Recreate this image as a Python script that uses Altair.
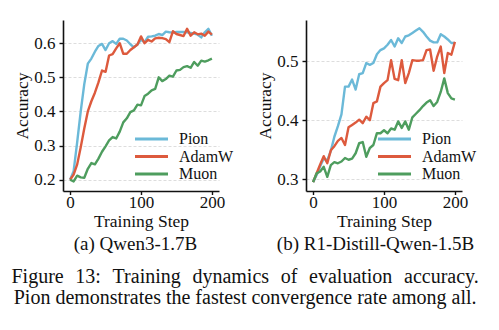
import altair as alt
import pandas as pd

steps = list(range(0, 201, 5))
optimizers = ["Pion", "AdamW", "Muon"]
colors = ["#6BB9D8", "#DD5A3D", "#4E9D5E"]

# (a) Qwen3-1.7B
qwen_pion = [0.200, 0.225, 0.310, 0.400, 0.480, 0.540, 0.555, 0.575, 0.592, 0.598,
             0.580, 0.600, 0.606, 0.598, 0.613, 0.613, 0.608, 0.597, 0.588, 0.596,
             0.610, 0.603, 0.619, 0.620, 0.622, 0.627, 0.624, 0.634, 0.632, 0.631,
             0.633, 0.633, 0.633, 0.632, 0.630, 0.628, 0.625, 0.617, 0.632, 0.642,
             0.622]
qwen_adamw = [0.200, 0.215, 0.245, 0.295, 0.350, 0.400, 0.430, 0.455, 0.485, 0.520,
              0.516, 0.564, 0.568, 0.585, 0.600, 0.569, 0.569, 0.580, 0.588, 0.596,
              0.620, 0.600, 0.610, 0.605, 0.614, 0.616, 0.615, 0.612, 0.603, 0.635,
              0.627, 0.624, 0.621, 0.642, 0.622, 0.632, 0.626, 0.628, 0.622, 0.634,
              0.625]
qwen_muon = [0.200, 0.195, 0.212, 0.207, 0.206, 0.232, 0.249, 0.245, 0.262, 0.282,
             0.298, 0.315, 0.325, 0.321, 0.341, 0.368, 0.380, 0.398, 0.403, 0.420,
             0.418, 0.445, 0.452, 0.462, 0.466, 0.500, 0.489, 0.495, 0.505, 0.502,
             0.520, 0.522, 0.530, 0.533, 0.528, 0.545, 0.534, 0.549, 0.546, 0.550,
             0.555]

# (b) R1-Distill-Qwen-1.5B
r1_pion = [0.295, 0.307, 0.322, 0.335, 0.332, 0.348, 0.372, 0.390, 0.410, 0.457,
           0.457, 0.469, 0.452, 0.478, 0.480, 0.497, 0.494, 0.497, 0.512, 0.519,
           0.522, 0.528, 0.536, 0.525, 0.539, 0.531, 0.542, 0.544, 0.548, 0.552,
           0.556, 0.550, 0.542, 0.535, 0.532, 0.532, 0.546, 0.542, 0.537, 0.531,
           0.531]
r1_adamw = [0.295, 0.310, 0.325, 0.339, 0.327, 0.349, 0.356, 0.365, 0.370, 0.358,
            0.388, 0.392, 0.396, 0.401, 0.395, 0.406, 0.400, 0.429, 0.432, 0.457,
            0.463, 0.468, 0.502, 0.470, 0.468, 0.502, 0.463, 0.480, 0.502, 0.501,
            0.501, 0.502, 0.519, 0.520, 0.484, 0.508, 0.525, 0.480, 0.514, 0.511,
            0.533]
r1_muon = [0.295, 0.310, 0.313, 0.321, 0.304, 0.324, 0.329, 0.327, 0.330, 0.336,
           0.333, 0.335, 0.344, 0.361, 0.363, 0.338, 0.353, 0.358, 0.378, 0.378,
           0.383, 0.378, 0.386, 0.384, 0.398, 0.387, 0.398, 0.384, 0.405, 0.411,
           0.417, 0.424, 0.430, 0.434, 0.424, 0.431, 0.448, 0.471, 0.446, 0.437,
           0.435]

FONT = "Liberation Serif"
# wide horizontal stroke used as the legend handle (scaled by sqrt(size)/2)
HANDLE = "M-2.75,0H2.75"
GAP = "\u2002\u200a"  # justified word spacing for the first caption line


def long_frame(series):
    rows = []
    for name, vals in zip(optimizers, series):
        for s, v in zip(steps, vals):
            rows.append({"step": s, "acc": v, "opt": name})
    return pd.DataFrame(rows)


def panel(df, ydom, yticks, subtitle, sub_dx):
    return alt.Chart(df).mark_line(strokeWidth=2.4, strokeJoin="round").encode(
        x=alt.X("step:Q",
                scale=alt.Scale(domain=[-10, 210], nice=False, zero=False),
                axis=alt.Axis(values=[0, 100, 200], title="Training Step",
                              grid=False, labelPadding=0, tickSize=3.5,
                              titlePadding=2)),
        y=alt.Y("acc:Q",
                scale=alt.Scale(domain=ydom, nice=False, zero=False),
                axis=alt.Axis(values=yticks, format=".1f", title="Accuracy",
                              grid=True, titlePadding=2)),
        color=alt.Color("opt:N", sort=optimizers,
                        scale=alt.Scale(domain=optimizers, range=colors),
                        legend=alt.Legend(title=None, orient="none",
                                          legendX=80.5, legendY=111,
                                          symbolType=HANDLE, symbolSize=144,
                                          symbolStrokeWidth=3, labelOffset=19.5,
                                          rowPadding=1.5, padding=0,
                                          labelFont=FONT, labelFontSize=16,
                                          labelColor="#111")),
    ).properties(
        width=156, height=171,
        title=alt.TitleParams(subtitle, orient="bottom", anchor="middle",
                              dx=sub_dx, offset=5, font=FONT, fontSize=19,
                              fontWeight="normal", color="#111"),
    )


left = panel(long_frame([qwen_pion, qwen_adamw, qwen_muon]),
             [0.167, 0.668], [0.2, 0.3, 0.4, 0.5, 0.6], "(a) Qwen3-1.7B", -5.5)
right = panel(long_frame([r1_pion, r1_adamw, r1_muon]),
              [0.280, 0.570], [0.3, 0.4, 0.5], "(b) R1-Distill-Qwen-1.5B", -8.5)

caption_1 = GAP.join("Figure 13: Training dynamics of evaluation accuracy.".split(" "))
caption_2 = "Pion demonstrates the fastest convergence rate among all."

chart = alt.hconcat(left, right, spacing=22).resolve_scale(
    color="independent", y="independent", x="independent"
).properties(
    title=alt.TitleParams(
        [caption_1, caption_2],
        orient="bottom", anchor="middle", offset=13, font=FONT, fontSize=20,
        fontWeight="normal", lineHeight=20.5, color="#111"),
    padding={"left": 11, "top": 20, "right": 5, "bottom": 5},
    background="white",
).configure_view(stroke=None).configure_axis(
    labelFont=FONT, labelFontSize=17, labelColor="#111", labelPadding=4,
    titleFont=FONT, titleFontSize=17.5, titleFontWeight="normal", titleColor="#111",
    domainColor="#111", domainWidth=1.6, tickColor="#111", tickWidth=1.4, tickSize=4,
    gridColor="#d4d4d4", gridDash=[3, 2], gridWidth=0.8,
)

chart.save("out.html", embed_options={"renderer": "svg", "actions": False})
